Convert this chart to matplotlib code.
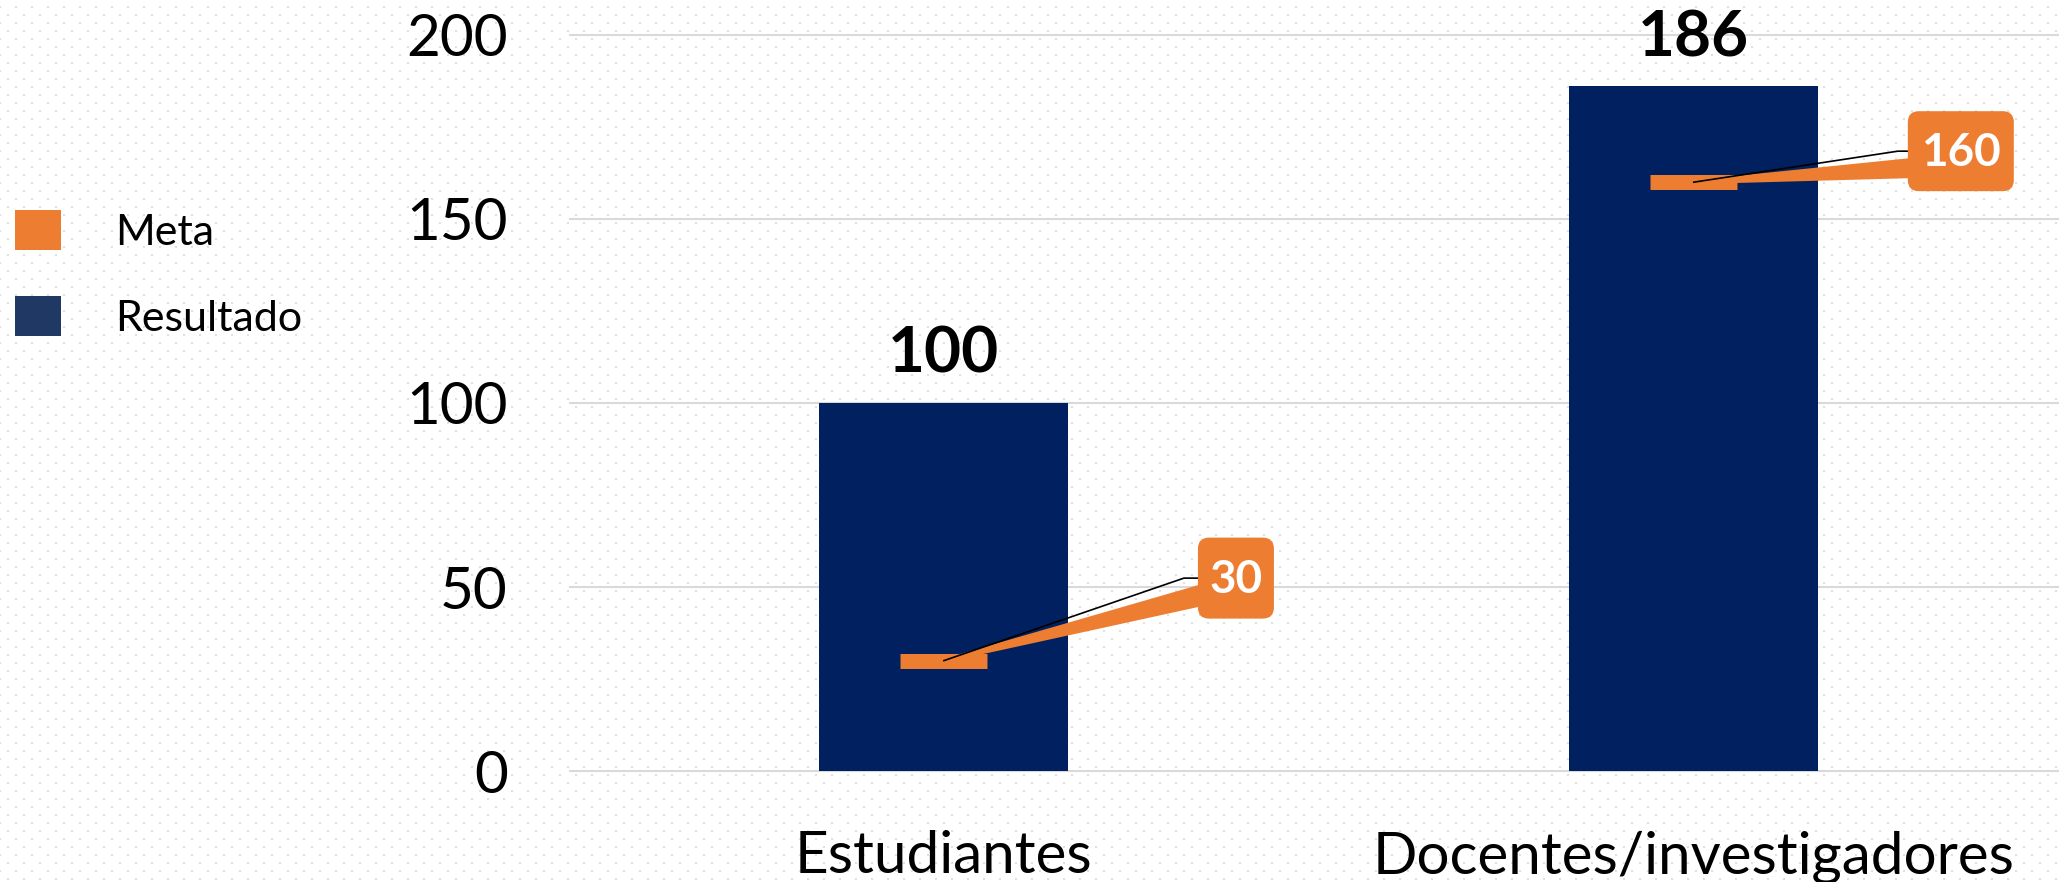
import numpy as np
import matplotlib
matplotlib.use('Agg')
import matplotlib.pyplot as plt
from matplotlib.patches import Patch, FancyBboxPatch, Polygon
from matplotlib.lines import Line2D
from matplotlib.transforms import IdentityTransform

plt.rcParams['font.family'] = ['Lato', 'DejaVu Sans']

categorias = ['Estudiantes', 'Docentes/investigadores']
resultado = [100, 186]
meta = [30, 160]
yticks = [0, 50, 100, 150, 200]

navy = '#002060'
navy_leg = '#203864'
orange = '#ED7D31'

W, H = 2059, 882
fig = plt.figure(figsize=(W / 100, H / 100), dpi=100)

# dotted background
bg = fig.add_axes([0, 0, 1, 1], zorder=-10)
bg.set_xlim(0, W)
bg.set_ylim(H, 0)
bg.axis('off')
gx, gy = np.meshgrid(np.arange(0, W + 16, 16), np.arange(7, H, 16))
bg.scatter(gx.ravel(), gy.ravel(), s=2.5, marker='s', c='#E0E0E0', linewidths=0)
bg.scatter(gx.ravel() + 8, gy.ravel() + 8, s=2.5, marker='s', c='#E0E0E0', linewidths=0)

ax = fig.add_axes([569 / W, 1 - 774.7 / H, 1 - 569 / W, (774.7 - 27.6) / H])
ax.set_facecolor('none')
x = np.arange(len(categorias))
ax.bar(x, resultado, width=0.332, color=navy, zorder=2)
ax.set_xlim(-0.5, 1.487)
ax.set_ylim(-1, 202)
ax.set_yticks(yticks)
ax.yaxis.grid(True, color='#D9D9D9', lw=1.5)
ax.set_axisbelow(True)
for s in ax.spines.values():
    s.set_visible(False)
ax.tick_params(length=0)
ax.tick_params(axis='y', labelsize=42, pad=44)
ax.set_xticks(x, categorias)
ax.tick_params(axis='x', labelsize=42, pad=40)

for xi, r in zip(x, resultado):
    ax.annotate(str(r), (xi, r), xytext=(0, 30), textcoords='offset pixels',
                ha='center', va='baseline', fontsize=46, fontweight='bold')

# meta markers + callouts (offsets in pixels from the marker centre)
box_dx = [292, 267]
box_dy = [82.5, 31]
box_w = [76, 106]
box_h = [81, 80]
knee_dx = [240, 204]
wedge_top = [76, 24]
wedge_bot = [54, 4]
ident = IdentityTransform()
for i, (xi, m) in enumerate(zip(x, meta)):
    ax.plot([xi - 0.058, xi + 0.058], [m, m], lw=10.8, color=orange,
            solid_capstyle='butt', zorder=3)
    px, py = ax.transData.transform((xi, m))
    left = px + box_dx[i] - box_w[i] / 2
    fig.add_artist(Polygon([(px, py + 2), (left + 2, py + wedge_top[i]),
                            (left + 2, py + wedge_bot[i]), (px, py - 2)],
                           closed=True, fc=orange, ec='none', transform=ident, zorder=3))
    fig.add_artist(Line2D([px, px + knee_dx[i], left], [py, py + box_dy[i], py + box_dy[i]],
                          transform=ident, color='black', lw=1.2, zorder=4))
    fig.add_artist(FancyBboxPatch((left, py + box_dy[i] - box_h[i] / 2), box_w[i], box_h[i],
                                  boxstyle='round,pad=0,rounding_size=11', fc=orange,
                                  ec='none', transform=ident, zorder=5))
    fig.text(px + box_dx[i], py + box_dy[i] - 2, str(m), transform=ident, ha='center',
             va='center', fontsize=33, fontweight='bold', color='white', zorder=6)

fig.legend(handles=[Patch(fc=orange), Patch(fc=navy_leg)], labels=['Meta', 'Resultado'],
           loc='upper left', bbox_to_anchor=(15 / W, 1 - 210 / H), frameon=False,
           fontsize=31, handlelength=1.07, handleheight=1.07, handletextpad=1.25,
           labelspacing=1.02, borderpad=0, borderaxespad=0)

fig.savefig('out.png', dpi=100)
